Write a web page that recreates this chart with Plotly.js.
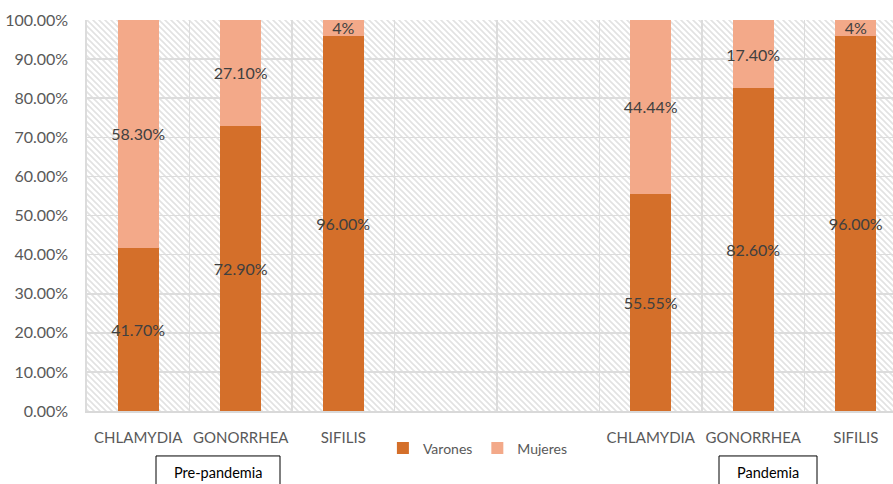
<!DOCTYPE html>
<html>
<head>
<meta charset="utf-8">
<script src="https://cdn.plot.ly/plotly-3.0.1.min.js"></script>
<style>html,body{margin:0;padding:0;background:#fff;}#chart{width:893px;height:484px;}</style>
</head>
<body>
<div id="chart"></div>
<script>
// ---- data ----
const categories = ['CHLAMYDIA', 'GONORRHEA', 'SIFILIS', '', '', 'CHLAMYDIA', 'GONORRHEA', 'SIFILIS'];
const varones = [0.417, 0.729, 0.96, null, null, 0.5555, 0.826, 0.96];
const mujeres = [0.583, 0.271, 0.04, null, null, 0.4444, 0.174, 0.04];
const varonesLabels = ['41.70%', '72.90%', '96.00%', '', '', '55.55%', '82.60%', '96.00%'];
const mujeresLabels = ['58.30%', '27.10%', '4%', '', '', '44.44%', '17.40%', '4%'];
const groupLabels = ['Pre-pandemia', 'Pandemia'];
const yTickVals = [0, 0.1, 0.2, 0.3, 0.4, 0.5, 0.6, 0.7, 0.8, 0.9, 1.0];

const xs = categories.map((_, i) => i);
const boundaries = categories.map((_, i) => i - 0.5).concat([categories.length - 0.5]);

const FONT = 'Lato, "Open Sans", sans-serif';

// hatch background as svg pattern
const W = 806, H = 391;
const svg = `<svg xmlns="http://www.w3.org/2000/svg" width="${W}" height="${H}" viewBox="0 0 ${W} ${H}">` +
  `<defs><pattern id="p" width="6" height="6" patternUnits="userSpaceOnUse">` +
  `<path d="M-1,-1 L7,7 M-1,5 L1,7 M5,-1 L7,1" stroke="#e2e2e2" stroke-width="1.6"/></pattern></defs>` +
  `<rect width="${W}" height="${H}" fill="#ffffff"/><rect width="${W}" height="${H}" fill="url(#p)"/></svg>`;
const svgUri = 'data:image/svg+xml;charset=utf-8,' + encodeURIComponent(svg);

const traces = [
  {
    type: 'bar', name: 'Varones', x: xs, y: varones,
    text: varonesLabels, textposition: 'inside', insidetextanchor: 'middle',
    textangle: 0, constraintext: 'none',
    textfont: {family: FONT, size: 16, color: '#404040'},
    marker: {color: '#D46F2A'}, width: 0.4, hoverinfo: 'skip'
  },
  {
    type: 'bar', name: 'Mujeres', x: xs, y: mujeres,
    text: mujeresLabels, textposition: 'inside', insidetextanchor: 'middle',
    textangle: 0, constraintext: 'none',
    textfont: {family: FONT, size: 16, color: '#404040'},
    marker: {color: '#F3A989'}, width: 0.4, hoverinfo: 'skip'
  }
];

const layout = {
  width: 893, height: 484,
  margin: {l: 87, r: 0, t: 20, b: 73, pad: 0},
  paper_bgcolor: '#ffffff',
  plot_bgcolor: 'rgba(0,0,0,0)',
  barmode: 'stack',
  showlegend: true,
  legend: {
    orientation: 'h', x: 0.485, xanchor: 'center', y: -0.055, yanchor: 'top',
    font: {family: FONT, size: 14, color: '#595959'},
    itemwidth: 30, traceorder: 'normal'
  },
  font: {family: FONT, size: 15, color: '#595959'},
  xaxis: {
    range: [-0.5, 7.363],
    tickmode: 'array', tickvals: xs, ticktext: categories,
    showgrid: false, zeroline: false,
    showline: true, linecolor: '#d9d9d9', linewidth: 1.5,
    ticks: '', ticklabelstandoff: 12,
    tickfont: {family: FONT, size: 15, color: '#595959'},
    minor: {tickmode: 'array', tickvals: boundaries, showgrid: true, gridcolor: '#dcdcdc', gridwidth: 1.6, ticks: ''},
    fixedrange: true
  },
  yaxis: {
    range: [0, 1],
    tickmode: 'array', tickvals: yTickVals,
    tickformat: '.2%',
    showgrid: true, gridcolor: '#dcdcdc', gridwidth: 1.6,
    zeroline: false, showline: true, linecolor: '#dcdcdc', linewidth: 1.6,
    ticks: '', ticklabelstandoff: 14,
    tickfont: {family: FONT, size: 16, color: '#595959'},
    fixedrange: true
  },
  images: [{
    source: svgUri, xref: 'paper', yref: 'paper', x: 0, y: 1,
    sizex: 1, sizey: 1, xanchor: 'left', yanchor: 'top',
    sizing: 'stretch', layer: 'below'
  }],
  shapes: [
    {type: 'rect', xref: 'paper', yref: 'paper', x0: (156 - 87) / 806, x1: (280 - 87) / 806, y0: -0.20, y1: -0.115,
     line: {color: '#000000', width: 1}, fillcolor: 'rgba(0,0,0,0)'},
    {type: 'rect', xref: 'paper', yref: 'paper', x0: (719 - 87) / 806, x1: (817 - 87) / 806, y0: -0.20, y1: -0.115,
     line: {color: '#000000', width: 1}, fillcolor: 'rgba(0,0,0,0)'}
  ],
  annotations: [
    {text: groupLabels[0], xref: 'paper', yref: 'paper', x: (218 - 87) / 806, y: -0.158, xanchor: 'center', yanchor: 'middle',
     showarrow: false, font: {family: FONT, size: 14.5, color: '#000000'}},
    {text: groupLabels[1], xref: 'paper', yref: 'paper', x: (768 - 87) / 806, y: -0.158, xanchor: 'center', yanchor: 'middle',
     showarrow: false, font: {family: FONT, size: 14.5, color: '#000000'}}
  ]
};

Plotly.newPlot('chart', traces, layout, {staticPlot: true, displayModeBar: false});
</script>
</body>
</html>
